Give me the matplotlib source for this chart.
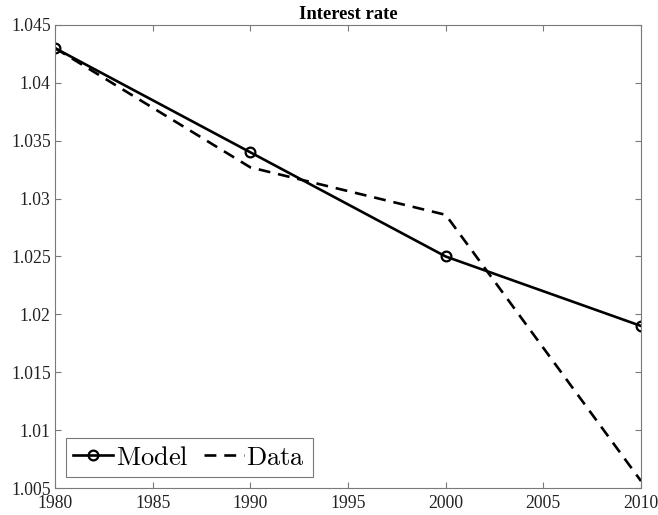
import matplotlib
matplotlib.use('Agg')
import matplotlib.pyplot as plt

# data
years = [1980, 1990, 2000, 2010]
model = [1.043, 1.034, 1.025, 1.019]
data = [1.043, 1.0327, 1.0286, 1.0056]

xticks = [1980, 1985, 1990, 1995, 2000, 2005, 2010]
yticks = [1.005, 1.01, 1.015, 1.02, 1.025, 1.03, 1.035, 1.04, 1.045]
ytick_labels = ['1.005', '1.01', '1.015', '1.02', '1.025', '1.03', '1.035', '1.04', '1.045']

plt.rcParams['font.family'] = ['Liberation Serif', 'DejaVu Serif']
plt.rcParams['mathtext.fontset'] = 'cm'

fig = plt.figure(figsize=(6.58, 5.15), dpi=100)
ax = fig.add_axes([0.0836, 0.0524, 0.8906, 0.8991])

ax.plot(years, model, color='black', lw=1.9, marker='o', markersize=7,
        markerfacecolor='none', markeredgewidth=1.6, label=r'$\mathrm{Model}$')
ax.plot(years, data, color='black', lw=1.9, dashes=(4.5, 3),
        label=r'$\mathrm{Data}$')

ax.set_xlim(1980, 2010)
ax.set_ylim(1.005, 1.045)
ax.set_xticks(xticks)
ax.set_yticks(yticks)
ax.set_yticklabels(ytick_labels)

grey = '#7a7a7a'
for s in ax.spines.values():
    s.set_color(grey)
    s.set_linewidth(0.8)
ax.tick_params(direction='in', length=4.5, width=0.8, color=grey,
               top=True, right=True, labelsize=12.7, labelcolor='#222222')
ax.tick_params(axis='x', pad=5)
ax.tick_params(axis='y', pad=3)

ax.set_title('Interest rate', fontsize=13.4, fontweight='bold', pad=4)

leg = ax.legend(loc='lower left', ncol=2, fontsize=19, frameon=True,
                fancybox=False, framealpha=1, edgecolor=grey,
                handlelength=1.5, handletextpad=0.1, columnspacing=0.6,
                borderpad=0.3, borderaxespad=0.4)
leg.get_frame().set_linewidth(0.8)

fig.savefig('out.png', dpi=100)
